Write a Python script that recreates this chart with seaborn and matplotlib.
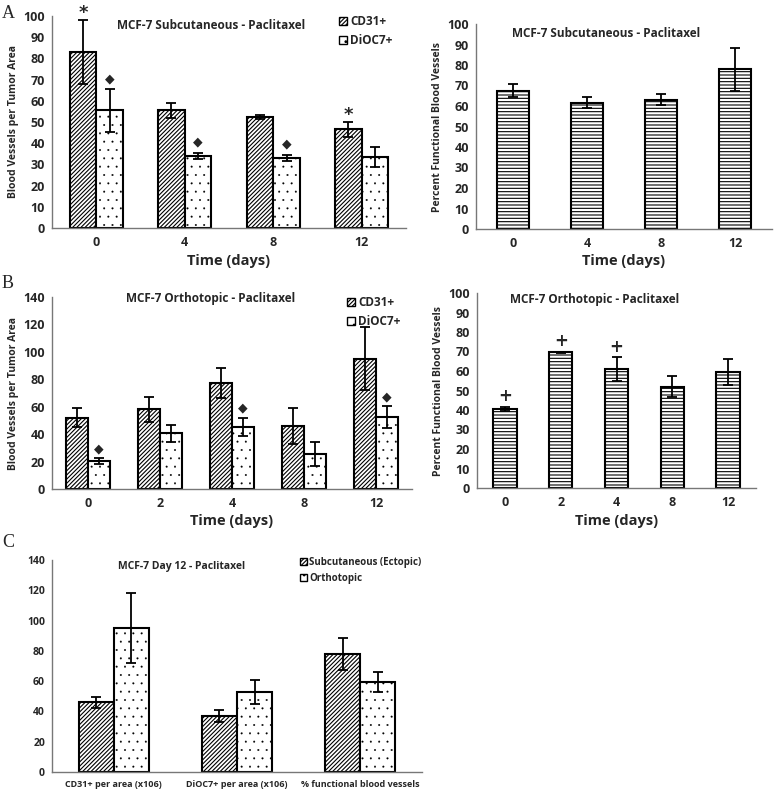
import numpy as np
import pandas as pd
import seaborn as sns
import matplotlib.pyplot as plt
from matplotlib.patches import Patch

# ---- data ----
days_a = ["0", "4", "8", "12"]
cd31_a = [83, 55.5, 52.5, 46.5]
cd31_a_err = [15, 3.5, 1, 3.5]
cd31_a_sig = ["*", "", "", "*"]
dioc_a = [55.5, 34, 33, 33.5]
dioc_a_err = [10, 1.5, 1.5, 4.5]
dioc_a_sig = ["◆", "◆", "◆", ""]

func_a = [67.5, 61.5, 63, 78]
func_a_err = [3, 2.7, 2.7, 10.5]

days_b = ["0", "2", "4", "8", "12"]
cd31_b = [52, 58, 77.5, 46, 95]
cd31_b_err = [7, 9, 11, 13, 23]
dioc_b = [20.5, 40.5, 45.5, 25.5, 52.5]
dioc_b_err = [2, 6, 6.5, 8.5, 8]
dioc_b_sig = ["◆", "", "◆", "", "◆"]

func_b = [40.5, 69.5, 61, 52, 59.5]
func_b_err = [1, 0.5, 6, 5.5, 6.5]
func_b_sig = ["+", "+", "+", "", ""]

measures_c = ["CD31+ per area (x106)", "DiOC7+ per area (x106)", "% functional blood vessels"]
subq_c = [46, 37, 78]
subq_c_err = [3.5, 4, 10.5]
ortho_c = [95, 53, 59.5]
ortho_c_err = [23, 8, 6.5]

FONT = ["Open Sans", "DejaVu Sans"]
sns.set_style("white")
plt.rcParams["font.family"] = FONT
plt.rcParams["font.weight"] = "bold"
plt.rcParams["hatch.linewidth"] = 0.8

W, H = 778, 794
fig = plt.figure(figsize=(W / 100, H / 100), dpi=100)


def axes_px(x0, y0, x1, y1):
    return fig.add_axes([x0 / W, (H - y1) / H, (x1 - x0) / W, (y1 - y0) / H])


def style_hatch(p, h):
    p.set_hatch(h)
    # tiny dots like the original stipple
    if h == dots and hasattr(p, "set_hatch_linewidth"):
        p.set_hatch_linewidth(0.2)


def bars(ax, cats, names, vals, errs, hatches, sigs, width, ymax, step, fs=9, xfs=None):
    rows = []
    for n, v in zip(names, vals):
        for c, y in zip(cats, v):
            rows.append({"cat": c, "series": n, "val": y})
    df = pd.DataFrame(rows)
    sns.barplot(data=df, x="cat", y="val", hue="series", order=cats, hue_order=names,
                palette=["white"] * len(names), saturation=1, edgecolor="black",
                linewidth=1.5, width=width, errorbar=None, legend=False, ax=ax)
    for cont, h, v, e, s in zip(ax.containers, hatches, vals, errs, sigs):
        xs = []
        for b in cont:
            style_hatch(b, h)
            xs.append(b.get_x() + b.get_width() / 2)
        ax.errorbar(xs, v, yerr=e, fmt="none", ecolor="black", elinewidth=1.3,
                    capsize=3.5, capthick=1.3)
        for x, y, ee, t in zip(xs, v, e, s):
            if t:
                size = {"*": 13, "+": 12, "◆": 9}[t]
                off = {"*": 0.035, "+": 0.055, "◆": 0.05}[t]
                ax.text(x, y + ee + off * ymax, t, ha="center", va="center",
                        fontsize=size, fontweight="bold", family=["DejaVu Sans"])
    ax.set_ylim(0, ymax)
    ax.set_xlim(-0.5, len(cats) - 0.5)
    ax.set_yticks(np.arange(0, ymax + 1, step))
    ax.set_xticks(np.arange(len(cats) + 1) - 0.5, minor=True)
    ax.tick_params(axis="x", which="major", length=0, labelsize=xfs or fs, pad=6)
    ax.tick_params(axis="x", which="minor", length=4, direction="out", color="#777777")
    ax.tick_params(axis="y", length=3, direction="out", color="#777777", labelsize=fs, pad=2)
    for lab in ax.get_xticklabels() + ax.get_yticklabels():
        lab.set_fontweight("bold")
    sns.despine(ax=ax)
    for sp in ["left", "bottom"]:
        ax.spines[sp].set_color("#777777")
        ax.spines[sp].set_linewidth(1.0)
    ax.set_xlabel("")
    ax.set_ylabel("")


def legend(ax, labels, hatches, anchor, fs=8.5):
    handles = [Patch(facecolor="white", edgecolor="black", hatch=h, linewidth=1) for h in hatches]
    ax.legend(handles, labels, loc="upper left", bbox_to_anchor=anchor, frameon=False,
              handlelength=0.7, handleheight=0.7, handletextpad=0.25, labelspacing=0.5,
              borderaxespad=0, borderpad=0, prop={"size": fs, "weight": "bold", "family": FONT})


diag = "////////"
dots = ".."
horiz = "-----"

# A left
ax = axes_px(52, 16, 406, 228)
bars(ax, days_a, ["CD31+", "DiOC7+"], [cd31_a, dioc_a], [cd31_a_err, dioc_a_err],
     [diag, dots], [cd31_a_sig, dioc_a_sig], 0.6, 100, 10)
ax.text(0.45, 0.955, "MCF-7 Subcutaneous - Paclitaxel", transform=ax.transAxes,
        ha="center", va="center", fontsize=8.5, fontweight="bold")
ax.set_xlabel("Time (days)", fontsize=10.5, fontweight="bold", labelpad=3)
ax.set_ylabel("Blood Vessels per Tumor Area", fontsize=7.5, fontweight="bold", labelpad=3)
legend(ax, ["CD31+", "DiOC7+"], [diag, dots], (0.81, 1.005))

# A right
ax = axes_px(476, 24, 772, 229)
bars(ax, days_a, ["Functional"], [func_a], [func_a_err], [horiz], [[""] * 4], 0.42, 100, 10)
ax.text(0.44, 0.955, "MCF-7 Subcutaneous - Paclitaxel", transform=ax.transAxes,
        ha="center", va="center", fontsize=8.5, fontweight="bold")
ax.set_xlabel("Time (days)", fontsize=10.5, fontweight="bold", labelpad=3)
ax.set_ylabel("Percent Functional Blood Vessels", fontsize=7.5, fontweight="bold", labelpad=3)

# B left
ax = axes_px(52, 297, 412, 489)
bars(ax, days_b, ["CD31+", "DiOC7+"], [cd31_b, dioc_b], [cd31_b_err, dioc_b_err],
     [diag, dots], [[""] * 5, dioc_b_sig], 0.6, 140, 20)
ax.text(0.44, 0.99, "MCF-7 Orthotopic - Paclitaxel", transform=ax.transAxes,
        ha="center", va="center", fontsize=8.5, fontweight="bold")
ax.set_xlabel("Time (days)", fontsize=10.5, fontweight="bold", labelpad=3)
ax.set_ylabel("Blood Vessels per Tumor Area", fontsize=7.5, fontweight="bold", labelpad=3)
legend(ax, ["CD31+", "DiOC7+"], [diag, dots], (0.82, 1.005))

# B right
ax = axes_px(477, 293, 756, 488)
bars(ax, days_b, ["Functional"], [func_b], [func_b_err], [horiz], [func_b_sig], 0.42, 100, 10)
ax.text(0.42, 0.965, "MCF-7 Orthotopic - Paclitaxel", transform=ax.transAxes,
        ha="center", va="center", fontsize=8.5, fontweight="bold")
ax.set_xlabel("Time (days)", fontsize=10.5, fontweight="bold", labelpad=3)
ax.set_ylabel("Percent Functional Blood Vessels", fontsize=7.5, fontweight="bold", labelpad=3)

# C
ax = axes_px(52, 560, 422, 772)
bars(ax, measures_c, ["Subcutaneous (Ectopic)", "Orthotopic"], [subq_c, ortho_c],
     [subq_c_err, ortho_c_err], [diag, dots], [[""] * 3, [""] * 3], 0.57, 140, 20,
     fs=7.5, xfs=6.5)
ax.text(0.35, 0.967, "MCF-7 Day 12 - Paclitaxel", transform=ax.transAxes,
        ha="center", va="center", fontsize=7.5, fontweight="bold")
legend(ax, ["Subcutaneous (Ectopic)", "Orthotopic"], [diag, dots], (0.67, 1.015), fs=7)

for lab, y in [("A", 5), ("B", 275), ("C", 534)]:
    fig.text(2 / W, 1 - y / H, lab, ha="left", va="top", fontsize=13,
             family="Liberation Serif", fontweight="normal")

fig.savefig("out.png", dpi=100)
